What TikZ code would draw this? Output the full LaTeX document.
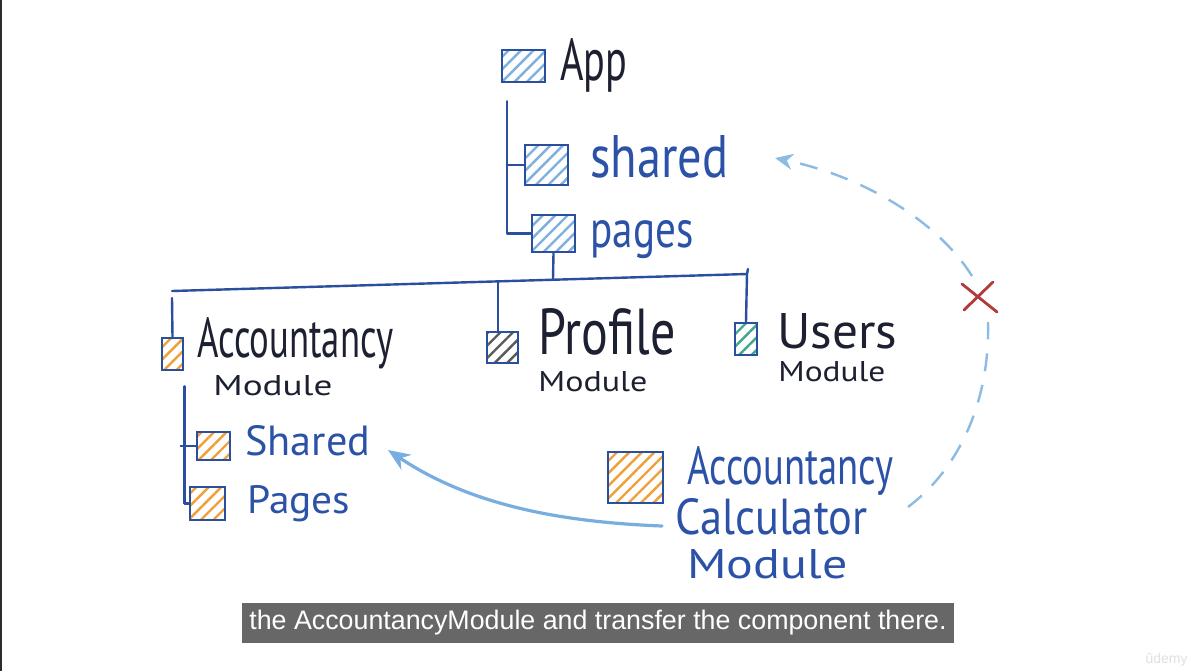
\documentclass[tikz,border=0pt]{standalone}
\usepackage{fontspec}
\setmainfont{PT Sans}
\newfontfamily\capfont{Liberation Sans}
\usetikzlibrary{patterns.meta,arrows.meta,calc}
% one drawing unit is one pixel of the 1196 x 671 page
\newdimen\pxu \pxu=0.5pt
% handwritten word squeezed into a given width and height (in pixels)
\newcommand\hw[3]{\resizebox{#1\pxu}{#2\pxu}{#3}}
\definecolor{pen}{HTML}{2A4F9E}
\definecolor{ink}{HTML}{1C2030}
\definecolor{bluetext}{HTML}{2B52A6}
\definecolor{hatchblue}{HTML}{7DB0DE}
\definecolor{hatchorange}{HTML}{F0A038}
\definecolor{hatchgray}{HTML}{5A5A5A}
\definecolor{hatchteal}{HTML}{3FA88E}
\definecolor{flow}{HTML}{78ADDF}
\definecolor{flowdash}{HTML}{8CBBE3}
\definecolor{cross}{HTML}{B23A3A}
\definecolor{captionbg}{HTML}{676767}
\definecolor{edge}{HTML}{2A2D2E}
\begin{document}
\begin{tikzpicture}[x=0.5pt,y=-0.5pt,
  folder/.style={draw=pen, line width=1.3pt, inner sep=0pt,
    pattern={Lines[angle=45,distance=4.4pt,line width=1.2pt]}, pattern color=#1},
  word/.style={anchor=base west, inner sep=0pt, text=#1},
  tree/.style={draw=pen, line width=1.2pt, line cap=round, line join=round},
  moveline/.style={draw=flow, line width=1.6pt, line cap=round,
    -{Stealth[length=11pt,width=9pt]}},
  dashline/.style={draw=flowdash, line width=1.2pt, dash pattern=on 9pt off 7pt},
  crossline/.style={draw=cross, line width=1.4pt, line cap=round}
]
\fill[white] (0,0) rectangle (1196,671);
\useasboundingbox (0,0) rectangle (1196,671);
\draw[edge, line width=1pt] (1,0) -- (1,671);

% ---------- folders ----------
\node[folder=hatchblue, minimum width=21.5pt, minimum height=16pt] (appbox) at (523.5,66) {};
\node[folder=hatchblue, minimum width=21.5pt, minimum height=20pt] (sharedbox) at (546.5,165) {};
\node[folder=hatchblue, minimum width=21.5pt, minimum height=18.5pt] (pagesbox) at (553.5,233.5) {};
\node[folder=hatchorange, minimum width=10.5pt, minimum height=16pt] (accbox) at (172.5,354) {};
\node[folder=hatchgray, minimum width=15.5pt, minimum height=15.5pt] (profbox) at (502.5,347.5) {};
\node[folder=hatchteal, minimum width=11pt, minimum height=16pt] (usersbox) at (746,339) {};
\node[folder=hatchorange, minimum width=16.5pt, minimum height=14pt] (ashbox) at (213.5,446) {};
\node[folder=hatchorange, minimum width=17.5pt, minimum height=16.5pt] (apgbox) at (207.5,503.5) {};
\node[folder=hatchorange, minimum width=27.5pt, minimum height=25.5pt] (calcbox) at (635.5,477.5) {};

% ---------- labels ----------
\node[word=ink] (apptxt) at (560,80) {\hw{67}{42}{App}};
\node[word=bluetext] (shtxt) at (590,177) {\hw{138}{42}{shared}};
\node[word=bluetext] (pgtxt) at (590,247) {\hw{103}{27}{pages}};
\node[word=ink] (acctxt) at (197,357) {\hw{196}{40}{Accountancy}};
\node[word=ink] (accmod) at (213,395) {\hw{119}{20}{Module}};
\node[word=ink] (proftxt) at (538,354) {\hw{137}{46}{Profile}};
\node[word=ink] (profmod) at (538,391) {\hw{109}{20}{Module}};
\node[word=ink] (userstxt) at (777,348) {\hw{120}{35}{Users}};
\node[word=ink] (usersmod) at (778,381) {\hw{107}{20}{Module}};
\node[word=bluetext] (ashtxt) at (245,455) {\hw{125}{30}{Shared}};
\node[word=bluetext] (apgtxt) at (247,513) {\hw{103}{28}{Pages}};
\node[word=bluetext] (calc1) at (687,484) {\hw{206}{38}{Accountancy}};
\node[word=bluetext] (calc2) at (675,534) {\hw{192}{36}{Calculator}};
\node[word=bluetext] (calc3) at (687,578) {\hw{160}{29}{Module}};

% ---------- tree lines ----------
\draw[tree] ([xshift=3pt,yshift=-9pt]appbox.south west) |- (pagesbox.west);
\draw[tree] (sharedbox.west) -- ++(-17,0);
\coordinate (busL) at (172,291);
\coordinate (busR) at (747,274);
\coordinate (busP) at (553,279);
\coordinate (busPr) at (498,282);
\draw[tree] (pagesbox.south) -- (busP);
\draw[tree] (busL) -- (busR) -- ++(1,-5);
\draw[tree] ([yshift=-3.5pt]busL) -- (accbox.north);
\draw[tree] (busPr) -- (busPr |- profbox.north);
\draw[tree] (busR) -- (usersbox.north);
\draw[tree] ([yshift=-7.5pt]accbox.south east) |- (apgbox.west);
\draw[tree] (ashbox.west) -- ++(-15,0);

% ---------- move arrow ----------
\coordinate (mvS) at (662,526);
\coordinate (mvE) at (388,450);
\draw[moveline] (mvS) .. controls (560,522) and (470,505) .. (mvE);

% ---------- blocked dashed arrow ----------
\coordinate (dS) at (908,507);
\coordinate (dM) at (988,322);
\coordinate (dM2) at (972,276);
\coordinate (dE) at (775,158);
\draw[dashline] (dS) .. controls (960,468) and (990,400) .. (dM);
\draw[dashline, -{Stealth[length=9pt,width=8pt]}] (dM2) .. controls (940,225) and (870,178) .. (dE);
\draw[crossline] (962,284) -- (997,312) (993,282) -- (964,310);

% ---------- caption ----------
\node[fill=captionbg, minimum width=356pt, minimum height=20pt, inner sep=0pt,
  text=white, font=\capfont\fontsize{13.4}{15}\selectfont] (cap) at (598,623)
  {the AccountancyModule and transfer the component there.};
\node[anchor=base east, inner sep=0pt, text=black!12,
  font=\capfont\fontsize{7}{8}\selectfont] (logo) at (1188,663) {ûdemy};
\end{tikzpicture}
\end{document}
